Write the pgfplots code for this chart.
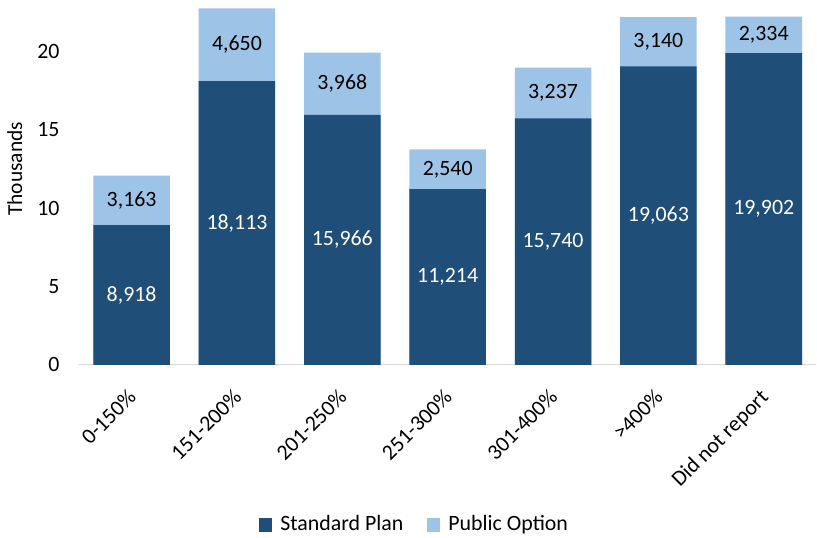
\documentclass[border=0pt]{standalone}
\usepackage{pgfplots}
\pgfplotsset{compat=1.18}
\usepackage{pgfplotstable}
\usepackage{fontspec}
\setmainfont{Carlito}
\definecolor{stdblue}{HTML}{1F4E79}
\definecolor{pubblue}{HTML}{9DC3E6}
\definecolor{axgray}{HTML}{D9D9D9}

% enrolment by income band (persons)
\pgfplotstableread{
x std pub
0 8918 3163
1 18113 4650
2 15966 3968
3 11214 2540
4 15740 3237
5 19063 3140
6 19902 2334
}\enrol

\begin{document}
\fontsize{22}{26}\selectfont
\begin{tikzpicture}[font={\fontsize{22}{26}\selectfont}]
\begin{axis}[
  scale only axis,
  width=742pt, height=367pt,
  ybar, bar shift=0pt, bar width=77pt,
  xmin=-0.5, xmax=6.5, ymin=0, ymax=23.3,
  enlargelimits=false,
  axis x line=bottom, axis y line=left,
  axis line style={-},
  x axis line style={axgray, line width=1.2pt},
  y axis line style={draw=none},
  major tick length=0pt,
  ytick={0,5,10,15,20},
  xtick={0,...,6},
  xticklabels={0-150\%,151-200\%,201-250\%,251-300\%,301-400\%,>400\%,Did not report},
  x tick label style={xshift=-5pt, yshift=-23pt, rotate=45, anchor=north east, inner sep=0pt},
  y tick label style={xshift=-12pt},
  /pgf/number format/assume math mode=true,
  ylabel={Thousands},
  every axis y label/.style={font={\fontsize{21.5}{25}\selectfont}, rotate=90,
    at={(axis description cs:-0.087,0.537)}, anchor=center},
  legend style={draw=none, at={(0.455,-0.438)}, anchor=center,
    legend columns=2,
    /tikz/every odd column/.append style={column sep=7pt},
    /tikz/every even column/.append style={column sep=22pt}},
  legend image code/.code={\fill[#1] (0pt,-6.5pt) rectangle (12pt,6.5pt);},
  nodes near coords={\pgfmathprintnumber[assume math mode=true,fixed,precision=0,1000 sep={,}]{\pgfplotspointmeta}},
  nodes near coords style={anchor=center},
]
% light segment: standard + public option on top
\addplot[fill=pubblue, draw=none, forget plot, nodes near coords=]
  table[x=x, y expr=(\thisrow{std}+\thisrow{pub})/1000] {\enrol};
\addplot[fill=stdblue, draw=none, forget plot, nodes near coords=]
  table[x=x, y expr=\thisrow{std}/1000] {\enrol};
% data labels at the middle of each segment
\addplot[draw=none, fill=none, forget plot, point meta=explicit,
  nodes near coords style={white}]
  table[x=x, y expr=\thisrow{std}/2000, meta=std] {\enrol};
\addplot[draw=none, fill=none, forget plot, point meta=explicit,
  nodes near coords style={black}]
  table[x=x, y expr=(\thisrow{std}+\thisrow{pub}/2)/1000, meta=pub] {\enrol};
\addlegendimage{stdblue}
\addlegendentry{Standard Plan}
\addlegendimage{pubblue}
\addlegendentry{Public Option}
\end{axis}
\end{tikzpicture}
\end{document}
